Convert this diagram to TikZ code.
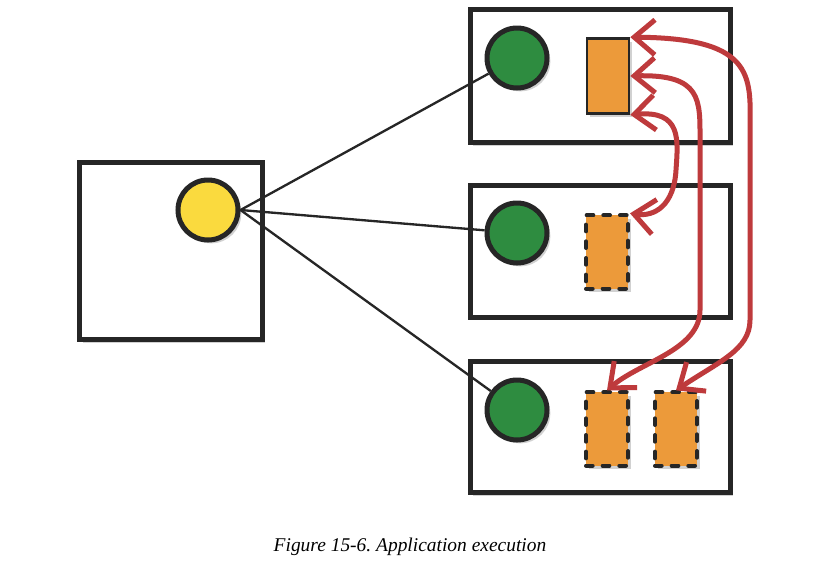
\documentclass[tikz,border=0pt]{standalone}
\usepackage{fontspec}
\setmainfont{Liberation Serif}
\usepackage{tikz}
\usetikzlibrary{shapes,arrows.meta,positioning,shadows}
\usepackage{xcolor}
\definecolor{appink}{RGB}{38,38,38}
\definecolor{appgreen}{RGB}{46,140,64}
\definecolor{appyellow}{RGB}{250,218,62}
\definecolor{apporange}{RGB}{236,154,58}
\definecolor{appred}{RGB}{190,58,60}
\tikzset{
    softshadow/.style={drop shadow={shadow xshift=0.1cm, shadow yshift=-0.1cm, opacity=0.18, fill=black}},
    machine/.style={rectangle, draw=appink, fill=white, line width=0.15cm, softshadow},
    driver/.style={circle, draw=appink, fill=appyellow, line width=0.15cm, minimum size=1.8cm, inner sep=0pt, softshadow},
    worker/.style={circle, draw=appink, fill=appgreen, line width=0.15cm, minimum size=1.8cm, inner sep=0pt, softshadow},
    block/.style={rectangle, draw=appink, fill=apporange, line width=0.08cm, minimum width=1.26cm, minimum height=2.2cm, inner sep=0pt, softshadow},
    copyblock/.style={block, line width=0.12cm, line cap=round, dash pattern=on 0.2cm off 0.3cm},
    link/.style={line width=0.07cm, appink},
    shuffle/.style={line width=0.15cm, appred, {Straight Barb[length=0.62cm, width=1.05cm]}-{Straight Barb[length=0.62cm, width=1.05cm]}},
    caption/.style={font=\fontsize{16.6}{20}\selectfont\itshape},
}
\begin{document}
\begin{tikzpicture}[x=0.03cm, y=-0.03cm]
    \useasboundingbox (0,0) rectangle (840,574);
    % driver side
    \node[machine, minimum width=5.46cm, minimum height=5.31cm] (master) at (171,251) {};
    \node[driver] (sun) at (208,210) {};
    % the three machines
    \node[machine, minimum width=7.8cm, minimum height=3.99cm] (hostA) at (600,76) {};
    \node[machine, minimum width=7.8cm, minimum height=3.96cm] (hostB) at (600,251) {};
    \node[machine, minimum width=7.8cm, minimum height=3.93cm] (hostC) at (600,427) {};
    \node[worker] (exA) at (517,58) {};
    \node[worker] (exB) at (517,233) {};
    \node[worker] (exC) at (517,410) {};
    \node[block, minimum height=2.25cm] (partA) at (608,76) {};
    \node[copyblock] (partB) at (607,252) {};
    \node[copyblock] (partC) at (607,429) {};
    \node[copyblock] (partD) at (676,429) {};
    % driver to executors
    \draw[link] (sun.east) -- (exA);
    \draw[link] (sun.east) -- (exB);
    \draw[link] (sun.east) -- (exC);
    % data moving between machines
    \draw[shuffle] (partA.north east) .. controls (760,38) and (750,80) .. (750,135)
        -- (750,320) .. controls (750,350) and (718,362) .. (partD.north);
    \draw[shuffle] (partA.east) .. controls (702,74) and (700,100) .. (700,140)
        -- (700,310) .. controls (700,350) and (640,362) .. (partC.north);
    \draw[shuffle] (partA.south east) .. controls (682,110) and (678,140) .. (676,170)
        .. controls (674,205) and (655,217) .. (partB.north east);
    \node[caption] (title) at (410,547) {Figure 15-6.\ Application execution};
\end{tikzpicture}
\end{document}
